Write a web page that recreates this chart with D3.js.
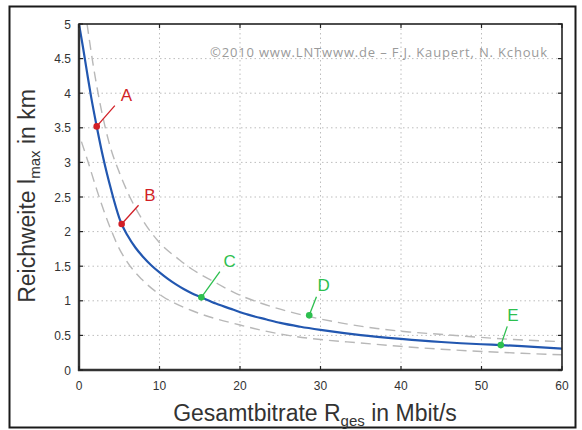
<!DOCTYPE html>
<html><head><meta charset="utf-8">
<script src="https://cdn.jsdelivr.net/npm/d3@7"></script>
<style>
html,body{margin:0;padding:0;background:#fff;}
svg{display:block;}
</style></head>
<body>
<script>
// ---------- data ----------
const xTicks = [0, 10, 20, 30, 40, 50, 60];
const yTicks = [0, 0.5, 1, 1.5, 2, 2.5, 3, 3.5, 4, 4.5, 5];
const yTickLabels = ["0", "0.5", "1", "1.5", "2", "2.5", "3", "3.5", "4", "4.5", "5"];

// main curve (blue)
const rMain = [0, 0.5, 1, 1.5, 2.2, 3, 4, 5, 5.3, 6, 7, 8, 9, 10, 11, 12, 13, 14, 15.2, 17, 19.2, 21, 23.3, 25, 27.5, 30, 35, 40, 45, 50, 52.4, 55, 60];
const lMain = [5, 4.66, 4.3, 3.95, 3.52, 3.07, 2.6, 2.2, 2.11, 1.95, 1.77, 1.63, 1.51, 1.41, 1.32, 1.24, 1.17, 1.11, 1.05, 0.96, 0.87, 0.8, 0.73, 0.68, 0.625, 0.58, 0.505, 0.45, 0.405, 0.372, 0.36, 0.345, 0.31];

// upper dashed curve (gray)
const rUpper = [1.0, 1.8, 2.5, 3.7, 5.2, 6.2, 8, 9.85, 12.5, 14, 16.7, 20, 22, 26.2, 29.9, 33, 37, 41, 44.4, 47.7, 54, 60];
const lUpper = [5, 4.38, 3.92, 3.3, 2.8, 2.53, 2.15, 1.86, 1.59, 1.46, 1.28, 1.08, 0.99, 0.84, 0.74, 0.67, 0.6, 0.55, 0.52, 0.49, 0.44, 0.41];

// lower dashed curve (gray)
const rLower = [0.3, 1.2, 2, 3, 4, 4.8, 6, 7.8, 10.3, 14, 20, 26, 30, 35, 39, 45, 50, 55, 60];
const lLower = [3.3, 2.98, 2.68, 2.33, 2.02, 1.8, 1.56, 1.31, 1.07, 0.86, 0.65, 0.5, 0.44, 0.39, 0.35, 0.3, 0.268, 0.242, 0.22];

// marked points
const ptNames = ["A", "B", "C", "D", "E"];
const ptR = [2.2, 5.3, 15.2, 28.6, 52.4];
const ptL = [3.52, 2.11, 1.05, 0.79, 0.36];
const ptLineEndR = [4.45, 7.4, 17.5, 29.5, 53.2];
const ptLineEndL = [3.82, 2.38, 1.42, 1.06, 0.63];
const ptLabelR = [5.9, 8.8, 18.7, 30.4, 53.9];
const ptLabelL = [3.97, 2.53, 1.58, 1.23, 0.79];
const ptColors = ["#d21f26", "#d21f26", "#2dbf4f", "#2dbf4f", "#2dbf4f"];

const copyright = "\u00A92010 www.LNTwww.de \u2013  F.J. Kaupert, N. Kchouk";

// ---------- drawing ----------
const W = 582, H = 430;
const svg = d3.select("body").append("svg").attr("width", W).attr("height", H);

// outer frame
svg.append("rect").attr("x", 9.5).attr("y", 6.5).attr("width", 566).attr("height", 421)
  .attr("fill", "none").attr("stroke", "#1a1a1a").attr("stroke-width", 2);

const L = 79, R = 562, T = 24, B = 370;
const x = d3.scaleLinear().domain([0, 60]).range([L, R]);
const y = d3.scaleLinear().domain([0, 5]).range([B, T]);

// grid
const grid = svg.append("g");
grid.selectAll("line.gx").data(xTicks.slice(1, -1)).enter().append("line")
  .attr("x1", d => x(d)).attr("x2", d => x(d)).attr("y1", T).attr("y2", B)
  .attr("stroke", "#bdbdbd").attr("stroke-width", 1).attr("stroke-dasharray", "1.5,3");
grid.selectAll("line.gy").data(yTicks.slice(1, -1)).enter().append("line")
  .attr("y1", d => y(d)).attr("y2", d => y(d)).attr("x1", L).attr("x2", R)
  .attr("stroke", "#bdbdbd").attr("stroke-width", 1).attr("stroke-dasharray", "1.5,3");

// copyright
svg.append("text").attr("x", 210).attr("y", 57)
  .attr("font-family", "'Open Sans', sans-serif").attr("font-size", 13)
  .attr("textLength", 337).attr("lengthAdjust", "spacing")
  .attr("fill", "#9a9a9a").text(copyright);

// curves
const line = (rs, ls) => d3.line().x((d, i) => x(rs[i])).y((d, i) => y(ls[i])).curve(d3.curveMonotoneX)(rs);
svg.append("path").attr("d", line(rUpper, lUpper)).attr("fill", "none")
  .attr("stroke", "#b8b8b8").attr("stroke-width", 1.4).attr("stroke-dasharray", "10,6");
svg.append("path").attr("d", line(rLower, lLower)).attr("fill", "none")
  .attr("stroke", "#b8b8b8").attr("stroke-width", 1.4).attr("stroke-dasharray", "10,6");

svg.append("clipPath").attr("id", "pc").append("rect")
  .attr("x", L).attr("y", T).attr("width", R - L).attr("height", B - T);
svg.append("path").attr("d", line(rMain, lMain)).attr("fill", "none")
  .attr("stroke", "#2257b0").attr("stroke-width", 2.2).attr("clip-path", "url(#pc)");

// point annotations
ptNames.forEach((n, i) => {
  svg.append("line").attr("x1", x(ptR[i])).attr("y1", y(ptL[i]))
    .attr("x2", x(ptLineEndR[i])).attr("y2", y(ptLineEndL[i]))
    .attr("stroke", ptColors[i]).attr("stroke-width", 1.3);
  svg.append("circle").attr("cx", x(ptR[i])).attr("cy", y(ptL[i])).attr("r", 3.3)
    .attr("fill", ptColors[i]);
  svg.append("text").attr("x", x(ptLabelR[i])).attr("y", y(ptLabelL[i]) + 6)
    .attr("text-anchor", "middle").attr("font-family", "'Liberation Sans', Arial, sans-serif")
    .attr("font-size", 17).attr("fill", ptColors[i]).text(n);
});

// plot box
svg.append("rect").attr("x", L).attr("y", T).attr("width", R - L).attr("height", B - T)
  .attr("fill", "none").attr("stroke", "#222").attr("stroke-width", 1.6);
svg.append("line").attr("x1", L).attr("x2", L).attr("y1", T).attr("y2", B + 1)
  .attr("stroke", "#333").attr("stroke-width", 2.4);
svg.append("line").attr("x1", L - 1).attr("x2", R).attr("y1", B).attr("y2", B)
  .attr("stroke", "#333").attr("stroke-width", 2.4);

// ticks (inward, all sides)
const tk = svg.append("g").attr("stroke", "#222").attr("stroke-width", 1.2);
xTicks.forEach(t => {
  tk.append("line").attr("x1", x(t)).attr("x2", x(t)).attr("y1", B).attr("y2", B - 4);
  tk.append("line").attr("x1", x(t)).attr("x2", x(t)).attr("y1", T).attr("y2", T + 4);
});
yTicks.forEach(t => {
  tk.append("line").attr("y1", y(t)).attr("y2", y(t)).attr("x1", L).attr("x2", L + 4);
  tk.append("line").attr("y1", y(t)).attr("y2", y(t)).attr("x1", R).attr("x2", R - 4);
});

// tick labels
const font = "'Liberation Sans', Arial, sans-serif";
svg.append("g").selectAll("text").data(xTicks).enter().append("text")
  .attr("x", d => x(d)).attr("y", 390).attr("text-anchor", "middle")
  .attr("font-family", font).attr("font-size", 12).attr("fill", "#333").text(d => d);
svg.append("g").selectAll("text").data(yTicks).enter().append("text")
  .attr("x", 71).attr("y", d => y(d) + 4.5).attr("text-anchor", "end")
  .attr("font-family", font).attr("font-size", 12).attr("fill", "#333")
  .text((d, i) => yTickLabels[i]);

// axis titles
const xt = svg.append("text").attr("x", 315).attr("y", 421).attr("text-anchor", "middle")
  .attr("font-family", font).attr("font-size", 23).attr("fill", "#333");
xt.append("tspan").text("Gesamtbitrate R");
xt.append("tspan").attr("font-size", 15).attr("dy", 5).text("ges");
xt.append("tspan").attr("dy", -5).text(" in Mbit/s");

const yt = svg.append("text").attr("transform", "translate(35,196) rotate(-90)")
  .attr("text-anchor", "middle").attr("font-family", font).attr("font-size", 23).attr("fill", "#333");
yt.append("tspan").text("Reichweite  l");
yt.append("tspan").attr("font-size", 15).attr("dy", 5).text("max");
yt.append("tspan").attr("dy", -5).text(" in km");
</script>
</body></html>
